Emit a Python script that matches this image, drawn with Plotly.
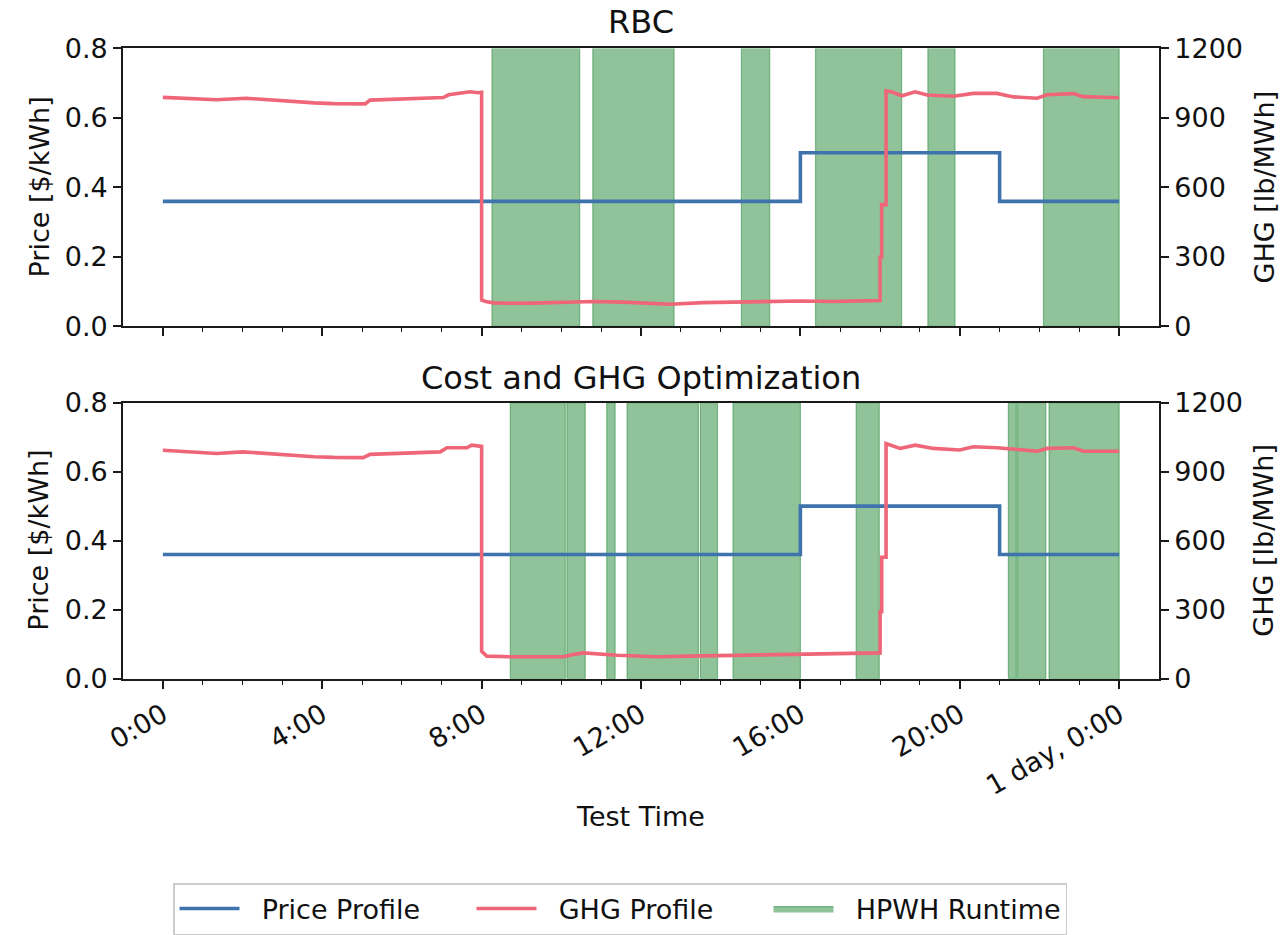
import plotly.graph_objects as go
from plotly.subplots import make_subplots

# ---- shared profiles -------------------------------------------------------
price_hours = [0, 16, 21, 24]
price_values = [0.36, 0.50, 0.36, 0.36]          # $/kWh, held until next step

tick_hours = [0, 4, 8, 12, 16, 20, 24]
tick_labels = ["0:00", "4:00", "8:00", "12:00", "16:00", "20:00", "1 day, 0:00"]
minor_hours = list(range(25))

price_ticks = [0.0, 0.2, 0.4, 0.6, 0.8]
ghg_ticks = [0, 300, 600, 900, 1200]

# ---- RBC run ---------------------------------------------------------------
rbc_ghg_hours = [0, 0.5, 1.0, 1.35, 2.1, 2.7, 3.27, 3.8, 4.28, 4.7, 5.08, 5.2,
                 5.6, 6.0, 6.5, 7.04, 7.17, 7.4, 7.71, 7.9, 8.0, 8.0, 8.1, 8.3,
                 8.67, 9.3, 10.14, 10.8, 11.56, 12.2, 12.73, 13.56, 14.5, 15.3,
                 16.0, 16.8, 17.5, 18.0, 18.0, 18.04, 18.04, 18.15, 18.15, 18.3,
                 18.55, 18.88, 19.18, 19.84, 20.34, 20.93, 21.35, 21.94, 22.19,
                 22.85, 23.1, 23.5, 24.0]
rbc_ghg = [989, 986, 984, 979, 985, 978, 968, 965, 962, 963, 961, 977,
           979, 982, 985, 988, 1000, 1004, 1013, 1009, 1011, 114, 108, 102,
           100, 101, 104, 108, 105, 100, 96, 103, 106, 108,
           110, 108, 110, 112, 299, 299, 526, 526, 1017, 1012,
           996, 1013, 999, 994, 1006, 1006, 991, 985, 1000,
           1005, 992, 989, 987]
rbc_run_start = [8.26, 10.79, 14.52, 16.38, 19.20, 22.10]
rbc_run_end = [10.46, 12.83, 15.23, 18.54, 19.88, 24.00]

# ---- Cost and GHG optimisation run -----------------------------------------
opt_ghg_hours = [0, 0.5, 1.0, 1.35, 2.0, 2.7, 3.27, 3.8, 4.28, 4.7, 5.03, 5.2,
                 5.6, 6.0, 6.5, 6.96, 7.13, 7.63, 7.75, 8.0, 8.0, 8.13, 8.72,
                 9.4, 10.05, 10.3, 10.55, 11.4, 12.4, 13.2, 13.9, 15.0, 16.0,
                 16.8, 17.42, 18.0, 18.0, 18.04, 18.04, 18.15, 18.15, 18.5,
                 18.88, 19.34, 20.0, 20.34, 20.93, 21.35, 21.95, 22.2, 22.86,
                 23.1, 24.0]
opt_ghg = [993, 988, 986, 979, 986, 978, 969, 965, 962, 962, 961, 975,
           977, 980, 983, 986, 1004, 1004, 1015, 1010, 119, 98, 95,
           95, 95, 105, 112, 102, 95, 98, 100, 104, 107,
           107, 109, 112, 291, 291, 528, 528, 1022, 1001,
           1015, 1001, 994, 1008, 1004, 997, 989, 1001, 1004,
           989, 989]
opt_run_start = [8.72, 10.14, 11.14, 11.65, 13.49, 14.31, 17.40, 21.22, 21.45, 22.24]
opt_run_end = [10.10, 10.60, 11.35, 13.44, 13.92, 16.00, 17.98, 21.42, 22.16, 24.00]

# ---- styling ---------------------------------------------------------------
W, H = 1287, 935
FONT = "DejaVu Sans"
BLUE = "#3f73ad"
RED = "#ee6677"
GREEN_FILL = "rgba(34,136,51,0.5)"
AX = "#1a1a1a"
PRICE_MAX = 0.8
GHG_MAX = 1200
PAD = "\u00a0\u00a0"   # extra room between legend handle and label


def px_x(p):
    return p / W


def px_y(p):
    return 1 - p / H


fig = make_subplots(rows=2, cols=1, specs=[[{"secondary_y": True}],
                                           [{"secondary_y": True}]])

panels = [
    (1, rbc_ghg_hours, rbc_ghg, rbc_run_start, rbc_run_end),
    (2, opt_ghg_hours, opt_ghg, opt_run_start, opt_run_end),
]

for row, g_hours, g_vals, starts, ends in panels:
    first = row == 1
    # runtime spans, one polygon per on-period
    xs, ys = [], []
    for s, e in zip(starts, ends):
        xs += [s, s, e, e, s, None]
        ys += [0, PRICE_MAX, PRICE_MAX, 0, 0, None]
    fig.add_trace(go.Scatter(x=xs, y=ys, mode="lines", fill="toself",
                             fillcolor=GREEN_FILL,
                             line=dict(color=GREEN_FILL, width=1.2),
                             name=PAD + "HPWH Runtime", legendgroup="run",
                             legendrank=3, showlegend=first,
                             hoverinfo="skip"),
                  row=row, col=1, secondary_y=False)
    fig.add_trace(go.Scatter(x=price_hours, y=price_values, mode="lines",
                             line=dict(color=BLUE, width=3.6, shape="hv"),
                             name=PAD + "Price Profile", legendgroup="price",
                             legendrank=1, showlegend=first),
                  row=row, col=1, secondary_y=False)
    fig.add_trace(go.Scatter(x=g_hours, y=g_vals, mode="lines",
                             line=dict(color=RED, width=3.6),
                             name=PAD + "GHG Profile", legendgroup="ghg",
                             legendrank=2, showlegend=first),
                  row=row, col=1, secondary_y=True)

x_dom = [px_x(123), px_x(1159)]
y_doms = {1: [px_y(330), px_y(49)], 2: [px_y(686), px_y(407)]}

tick_font = dict(family=FONT, size=27, color="#111")

for row in (1, 2):
    fig.update_xaxes(row=row, col=1, domain=x_dom, range=[-1.0, 25.0],
                     tickmode="array", tickvals=tick_hours,
                     ticktext=tick_labels, showticklabels=(row == 2),
                     tickangle=-30, tickfont=tick_font,
                     ticks="outside", ticklen=8, tickwidth=1.8, tickcolor=AX,
                     minor=dict(tickmode="array", tickvals=minor_hours,
                                ticks="outside", ticklen=4, tickwidth=1.4,
                                tickcolor=AX, showgrid=False),
                     showline=True, linecolor=AX, linewidth=1.8, mirror=True,
                     showgrid=False, zeroline=False, automargin=False)
    fig.update_yaxes(row=row, col=1, secondary_y=False, domain=y_doms[row],
                     range=[0, PRICE_MAX], tickvals=price_ticks,
                     tickformat=".1f", tickfont=tick_font,
                     ticks="outside", ticklen=8, tickwidth=1.8, tickcolor=AX,
                     showline=True, linecolor=AX, linewidth=1.8,
                     showgrid=False, zeroline=False, automargin=False)
    fig.update_yaxes(row=row, col=1, secondary_y=True,
                     range=[0, GHG_MAX], tickvals=ghg_ticks,
                     tickfont=tick_font,
                     ticks="outside", ticklen=8, tickwidth=1.8, tickcolor=AX,
                     showline=True, linecolor=AX, linewidth=1.8,
                     showgrid=False, zeroline=False, automargin=False)

label_font = dict(family=FONT, size=27, color="#111")
title_font = dict(family=FONT, size=32, color="#111")
annotations = [
    dict(text="RBC", x=px_x(641), y=px_y(22), font=title_font),
    dict(text="Cost and GHG Optimization", x=px_x(641), y=px_y(382),
         font=title_font),
    dict(text="Price [$/kWh]", x=px_x(39), y=px_y(189.5), textangle=-90,
         font=label_font),
    dict(text="Price [$/kWh]", x=px_x(39), y=px_y(546.5), textangle=-90,
         font=label_font),
    dict(text="GHG [lb/MWh]", x=px_x(1264), y=px_y(189.5), textangle=-90,
         font=label_font),
    dict(text="GHG [lb/MWh]", x=px_x(1264), y=px_y(546.5), textangle=-90,
         font=label_font),
    dict(text="Test Time", x=px_x(640), y=px_y(825), font=label_font),
]
for a in annotations:
    a.update(xref="paper", yref="paper", xanchor="center", yanchor="middle",
             showarrow=False)

fig.update_layout(
    width=W, height=H,
    margin=dict(l=0, r=0, t=0, b=0),
    paper_bgcolor="white", plot_bgcolor="white",
    font=dict(family=FONT, size=27, color="#111"),
    annotations=annotations,
    showlegend=True,
    legend=dict(orientation="h", x=px_x(173), xanchor="left",
                y=px_y(893), yanchor="top",
                bgcolor="white", bordercolor="#cccccc", borderwidth=1.5,
                font=dict(family=FONT, size=27, color="#111"),
                entrywidth=222, itemwidth=60, traceorder="normal"),
)

fig.write_html("out.html")
